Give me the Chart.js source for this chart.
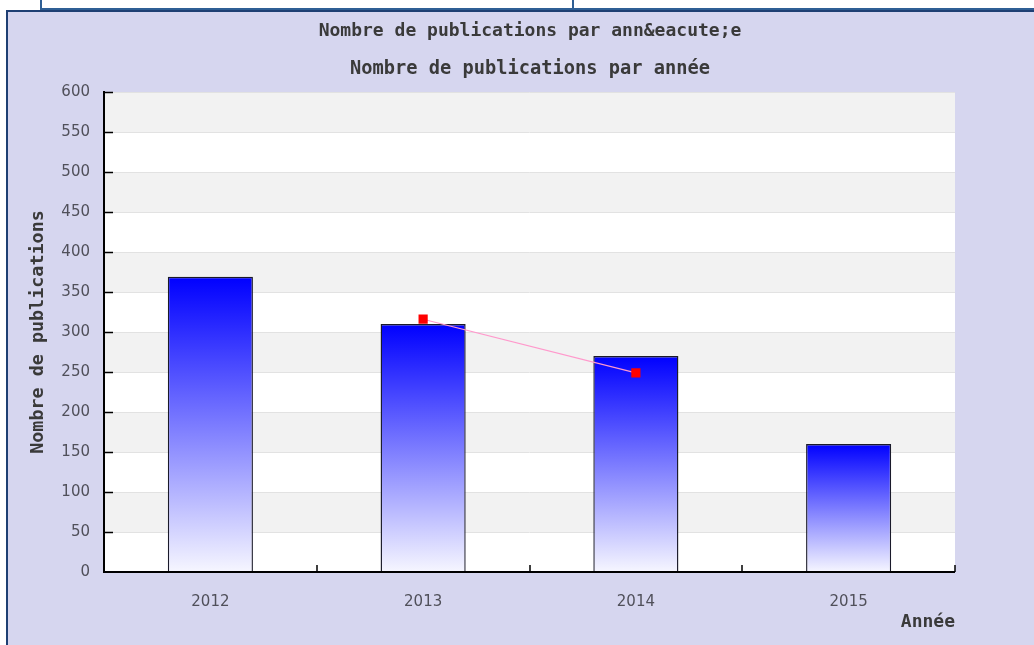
<!DOCTYPE html>
<html>
<head>
<meta charset="utf-8">
<script src="https://cdn.jsdelivr.net/npm/chart.js@4.4.0/dist/chart.umd.min.js"></script>
<style>
  html, body { margin: 0; padding: 0; background: #ffffff; }
  #wrap { position: relative; width: 1034px; height: 645px; overflow: hidden; }
  #topbox { position: absolute; left: 40px; top: -2px; width: 532px; height: 10px; border: 2px solid #2f5f95; border-top: none; background: #fff; }
  #topbox2 { position: absolute; left: 572px; top: -2px; width: 470px; height: 10px; border-left: 2px solid #2f5f95; border-bottom: 2px solid #2f5f95; background: #fff; }
  #panel { position: absolute; left: 6px; top: 10px; width: 1030px; height: 640px; background: #d6d6ef; border-left: 2px solid #1e3f73; border-top: 2px solid #1e3f73; }
  canvas { position: absolute; left: 0; top: 0; }
</style>
</head>
<body>
<div id="wrap">
  <div id="panel"></div>
  <div id="topbox"></div>
  <div id="topbox2"></div>
  <canvas id="c" width="1034" height="645"></canvas>
</div>
<script>
const categories = ['2012', '2013', '2014', '2015'];
const barValues = [369, 310, 270, 160];
const lineValues = [null, 316, 249, null];
const yTicks = { min: 0, max: 600, step: 50 };
const titleText = 'Nombre de publications par ann&eacute;e';
const subtitleText = 'Nombre de publications par année';
const yTitle = 'Nombre de publications';
const xTitle = 'Année';

const monoBold = (s) => ({ family: '"DejaVu Sans Mono", monospace', size: s, weight: 'bold' });

const plotDecor = {
  id: 'plotDecor',
  beforeDraw(chart) {
    const { ctx, chartArea: a, scales: { y } } = chart;
    ctx.save();
    ctx.fillStyle = '#ffffff';
    ctx.fillRect(a.left, a.top, a.right - a.left, a.bottom - a.top);
    ctx.fillStyle = '#f2f2f2';
    let k = 0;
    for (let v = yTicks.min; v < yTicks.max; v += yTicks.step, k++) {
      if (k % 2 === 1) {
        const y1 = y.getPixelForValue(v + yTicks.step);
        const y0 = y.getPixelForValue(v);
        ctx.fillRect(a.left, y1, a.right - a.left, y0 - y1);
      }
    }
    ctx.restore();
  },
  afterDraw(chart) {
    const { ctx, chartArea: a, scales: { x, y } } = chart;
    ctx.save();
    ctx.strokeStyle = '#000000';
    ctx.lineWidth = 2;
    ctx.beginPath();
    ctx.moveTo(a.left, a.top - 1);
    ctx.lineTo(a.left, a.bottom);
    ctx.lineTo(a.right, a.bottom);
    ctx.stroke();
    ctx.lineWidth = 1.5;
    ctx.beginPath();
    for (let v = yTicks.min + yTicks.step; v <= yTicks.max; v += yTicks.step) {
      const py = Math.round(y.getPixelForValue(v)) + 0.5;
      ctx.moveTo(a.left, py);
      ctx.lineTo(a.left + 9, py);
    }
    for (let i = 1; i <= categories.length; i++) {
      const px = Math.round(x.getPixelForValue(i - 0.5));
      ctx.moveTo(px, a.bottom);
      ctx.lineTo(px, a.bottom - 7);
    }
    ctx.stroke();
    ctx.restore();
  }
};

function barGradient(context) {
  const chart = context.chart;
  const ys = chart.scales.y;
  if (!chart.chartArea || !ys || context.dataIndex === undefined) return '#4040ff';
  const v = barValues[context.dataIndex];
  const top = ys.getPixelForValue(v);
  const bottom = ys.getPixelForValue(0);
  if (!isFinite(top) || !isFinite(bottom)) return '#4040ff';
  const g = chart.ctx.createLinearGradient(0, top, 0, bottom);
  g.addColorStop(0, '#0000ff');
  g.addColorStop(1, '#f6f6ff');
  return g;
}

new Chart(document.getElementById('c'), {
  data: {
    labels: categories,
    datasets: [
      {
        type: 'line',
        data: lineValues,
        order: 0,
        borderColor: '#ff99cc',
        borderWidth: 1.2,
        pointStyle: 'rect',
        pointRadius: 6.5,
        pointHoverRadius: 6.5,
        pointBackgroundColor: '#ff0000',
        pointBorderColor: '#ff0000',
        pointBorderWidth: 0,
        spanGaps: false,
        fill: false
      },
      {
        type: 'bar',
        data: barValues,
        order: 1,
        backgroundColor: barGradient,
        borderColor: '#1a1a2a',
        borderWidth: 1.4,
        borderSkipped: 'bottom',
        barPercentage: 0.4,
        categoryPercentage: 1.0
      }
    ]
  },
  plugins: [plotDecor],
  options: {
    responsive: false,
    animation: false,
    devicePixelRatio: 1,
    layout: { padding: { top: 0, left: 26, right: 0, bottom: 0 } },
    plugins: {
      legend: { display: false },
      tooltip: { enabled: false },
      title: {
        display: true,
        text: titleText,
        color: '#3a3a3a',
        font: monoBold(18),
        padding: { top: 21, bottom: 7 }
      },
      subtitle: {
        display: true,
        text: subtitleText,
        color: '#3a3a3a',
        font: monoBold(18.7),
        padding: { top: 8, bottom: 12 }
      }
    },
    scales: {
      x: {
        type: 'category',
        offset: true,
        grid: { display: false, drawTicks: false },
        border: { display: false },
        ticks: {
          color: '#50505a',
          font: { family: '"DejaVu Sans", sans-serif', size: 15 },
          padding: 21,
          maxRotation: 0
        },
        title: {
          display: true,
          text: xTitle,
          align: 'end',
          color: '#3a3a3a',
          font: monoBold(18),
          padding: { top: 12, bottom: 12 }
        },
        afterFit(scale) { scale.height = 73; }
      },
      y: {
        min: yTicks.min,
        max: yTicks.max,
        grid: { color: '#e2e2e2', lineWidth: 1, drawTicks: false },
        border: { display: false },
        ticks: {
          stepSize: yTicks.step,
          color: '#50505a',
          font: { family: '"DejaVu Sans", sans-serif', size: 15 },
          padding: 14
        },
        title: {
          display: true,
          text: yTitle,
          color: '#3a3a3a',
          font: monoBold(18.4),
          padding: { top: 1, bottom: 0 }
        },
        afterFit(scale) { scale.width = 78; }
      },
      spacer: {
        position: 'right',
        display: true,
        grid: { display: false, drawTicks: false },
        border: { display: false },
        ticks: { display: false },
        afterFit(scale) { scale.width = 79; }
      }
    }
  }
});
</script>
</body>
</html>
